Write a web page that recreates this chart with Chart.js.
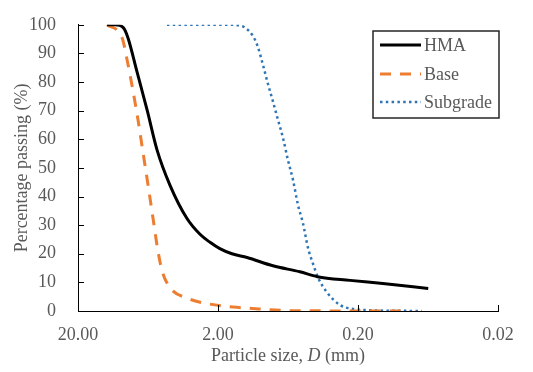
<!DOCTYPE html>
<html>
<head>
<meta charset="utf-8">
<script src="https://cdn.jsdelivr.net/npm/chart.js@4"></script>
<style>
html, body { margin: 0; padding: 0; background: #fff; }
</style>
</head>
<body>
<canvas id="myChart" width="533" height="372"></canvas>
<script>
// particle size (mm) and percentage passing
var hmaSize = [12.4, 10.9, 9.5, 8.8, 7.6, 6.4, 5.46, 4.41, 3.33, 2.69, 2.28, 1.94, 1.59, 1.24, 0.81, 0.52, 0.39, 0.228, 0.133, 0.063];
var hmaPass = [100, 100, 99, 95.5, 83.8, 70, 56.4, 44, 32.3, 26.8, 24.0, 21.8, 20.0, 18.7, 15.8, 13.7, 12.0, 10.7, 9.6, 7.9];

var baseSize = [12.4, 9.7, 8.8, 8.1, 7.45, 6.98, 6.32, 5.82, 5.37, 5.02, 4.41, 3.33, 2.28, 1.56, 1.0, 0.58, 0.089];
var basePass = [100, 95.5, 86.3, 77, 66.7, 57.7, 44, 32.3, 21, 14.1, 8.2, 4.5, 2.4, 1.4, 0.7, 0.1, 0];

var subSize = [4.63, 1.51, 1.40, 1.28, 1.12, 1.04, 0.95, 0.88, 0.81, 0.745, 0.687, 0.632, 0.582, 0.537, 0.494, 0.455, 0.419, 0.386, 0.333, 0.269, 0.217, 0.172, 0.070];
var subPass = [100, 100, 99.7, 99, 95.9, 92.4, 85.6, 79.4, 73.2, 66.7, 60.5, 52.6, 45.7, 37.1, 30.6, 22, 16.5, 11.7, 6.5, 2.1, 0.7, 0.3, 0];

var xTicks = [20, 2, 0.2, 0.02];
var seriesNames = ['HMA', 'Base', 'Subgrade'];

var FONT = "'Liberation Serif', 'Times New Roman', serif";
var GREY = '#595959';

function pts(xs, ys) {
    return xs.map(function (x, i) { return { x: x, y: ys[i] }; });
}

// inward tick marks, legend box and axis titles
var decor = {
    id: 'decor',
    afterDraw: function (chart) {
        var c = chart.ctx;
        var xs = chart.scales.x, ys = chart.scales.y;
        var a = chart.chartArea;
        c.save();
        c.strokeStyle = '#000';
        c.lineWidth = 1;
        c.beginPath();
        ys.ticks.forEach(function (t) {
            var y = Math.round(ys.getPixelForValue(t.value)) + 0.5;
            c.moveTo(a.left, y);
            c.lineTo(a.left + 6, y);
        });
        xTicks.forEach(function (v) {
            var x = Math.round(xs.getPixelForValue(v)) + 0.5;
            c.moveTo(x, a.bottom);
            c.lineTo(x, a.bottom - 6);
        });
        c.stroke();

        // legend
        var lx = 373, ly = 31, lw = 126, lh = 87;
        c.strokeStyle = '#262626';
        c.lineWidth = 1.5;
        c.strokeRect(lx, ly, lw, lh);
        var rows = [45, 74, 102];
        chart.data.datasets.forEach(function (ds, i) {
            c.save();
            c.strokeStyle = ds.borderColor;
            c.lineWidth = ds.borderWidth;
            c.setLineDash(ds.borderDash || []);
            c.beginPath();
            c.moveTo(380, rows[i]);
            c.lineTo(421, rows[i]);
            c.stroke();
            c.restore();
            c.fillStyle = GREY;
            c.font = '18px ' + FONT;
            c.textBaseline = 'middle';
            c.textAlign = 'left';
            c.fillText(ds.label, 424, rows[i] + 1);
        });

        // x title with italic D
        var parts = [['Particle size, ', ''], ['D', 'italic '], [' (mm)', '']];
        var total = 0;
        parts.forEach(function (p) {
            c.font = p[1] + '18px ' + FONT;
            p.push(c.measureText(p[0]).width);
            total += p[2];
        });
        var cx = (a.left + a.right) / 2 - total / 2;
        c.fillStyle = GREY;
        c.textBaseline = 'middle';
        c.textAlign = 'left';
        parts.forEach(function (p) {
            c.font = p[1] + '18px ' + FONT;
            c.fillText(p[0], cx, 356);
            cx += p[2];
        });

        // y title
        c.translate(22, (a.top + a.bottom) / 2);
        c.rotate(-Math.PI / 2);
        c.font = '18px ' + FONT;
        c.textAlign = 'center';
        c.fillText('Percentage passing (%)', 0, 0);
        c.restore();
    }
};

var ctx = document.getElementById('myChart').getContext('2d');
var myChart = new Chart(ctx, {
    type: 'scatter',
    data: {
        datasets: [{
            label: seriesNames[0],
            data: pts(hmaSize, hmaPass),
            borderColor: '#000000',
            borderWidth: 3
        }, {
            label: seriesNames[1],
            data: pts(baseSize, basePass),
            borderColor: '#ED7D31',
            borderWidth: 3,
            borderDash: [11, 9]
        }, {
            label: seriesNames[2],
            data: pts(subSize, subPass),
            borderColor: '#2E75B6',
            borderWidth: 2.5,
            borderDash: [2.5, 3.3]
        }]
    },
    options: {
        responsive: false,
        animation: false,
        showLine: true,
        elements: {
            point: { radius: 0, hoverRadius: 0 },
            line: { cubicInterpolationMode: 'monotone', fill: false }
        },
        layout: { padding: { left: 0, top: 20, right: 35, bottom: 0 } },
        plugins: {
            legend: { display: false },
            tooltip: { enabled: false }
        },
        scales: {
            x: {
                type: 'logarithmic',
                reverse: true,
                min: 0.02,
                max: 20,
                afterBuildTicks: function (scale) {
                    scale.ticks = xTicks.map(function (v) { return { value: v }; });
                },
                afterFit: function (scale) { scale.height = 61; },
                grid: { display: false },
                border: { display: true, color: '#000', width: 1 },
                ticks: {
                    autoSkip: false,
                    maxRotation: 0,
                    padding: 5,
                    color: GREY,
                    font: { family: FONT, size: 18 },
                    callback: function (v) { return Number(v).toFixed(2); }
                }
            },
            y: {
                min: 0,
                max: 100,
                afterFit: function (scale) { scale.width = 78; },
                grid: { display: false },
                border: { display: true, color: '#000', width: 1 },
                ticks: {
                    stepSize: 10,
                    padding: 14,
                    color: GREY,
                    font: { family: FONT, size: 18 }
                }
            }
        }
    },
    plugins: [decor]
});
</script>
</body>
</html>
